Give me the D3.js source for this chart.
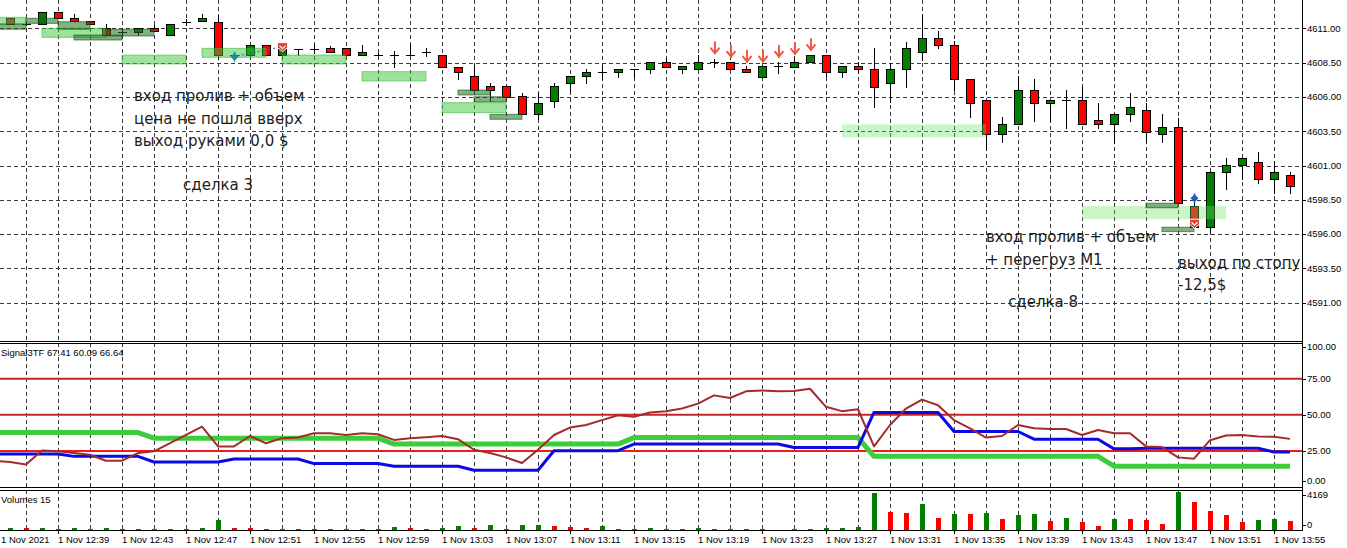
<!DOCTYPE html>
<html>
<head>
<meta charset="utf-8">
<script src="https://cdn.jsdelivr.net/npm/d3@7/dist/d3.min.js"></script>
<style>
body { margin: 0; background: #fff; }
svg { display: block; }
</style>
</head>
<body>
<script>
// one-minute bars, 1 Nov 2021, 12:35 .. 13:56
const times = ["12:35","12:36","12:37","12:38","12:39","12:40","12:41","12:42","12:43","12:44",
  "12:45","12:46","12:47","12:48","12:49","12:50","12:51","12:52","12:53","12:54",
  "12:55","12:56","12:57","12:58","12:59","13:00","13:01","13:02","13:03","13:04",
  "13:05","13:06","13:07","13:08","13:09","13:10","13:11","13:12","13:13","13:14",
  "13:15","13:16","13:17","13:18","13:19","13:20","13:21","13:22","13:23","13:24",
  "13:25","13:26","13:27","13:28","13:29","13:30","13:31","13:32","13:33","13:34",
  "13:35","13:36","13:37","13:38","13:39","13:40","13:41","13:42","13:43","13:44",
  "13:45","13:46","13:47","13:48","13:49","13:50","13:51","13:52","13:53","13:54",
  "13:55","13:56"];

const open = [4610.95,4611.75,4611.31,4611.29,4612.21,4611.73,4611.51,4611.00,4610.75,4610.75,
  4611.00,4610.51,4611.48,4611.53,4611.48,4609.05,4609.05,4609.78,4609.05,4609.47,
  4609.47,4609.54,4609.54,4609.05,4609.05,4609.05,4609.05,4609.25,4609.05,4608.20,
  4607.52,4606.79,4606.79,4606.07,4604.73,4605.72,4606.99,4607.52,4607.79,4607.79,
  4608.01,4608.01,4608.52,4608.01,4608.01,4608.52,4608.52,4608.01,4607.47,4608.25,
  4608.20,4608.52,4609.05,4607.79,4608.25,4608.01,4606.99,4608.01,4609.25,4610.27,
  4609.78,4607.28,4605.77,4603.27,4604.00,4606.50,4605.53,4605.77,4605.77,4604.32,
  4604.00,4604.73,4605.05,4603.27,4603.78,4598.05,4596.50,4600.50,4601.04,4601.23,
  4600.00,4600.31];

const high = [4611.35,4611.75,4611.40,4612.21,4612.21,4612.04,4611.51,4611.31,4611.00,4611.00,
  4611.24,4611.29,4611.66,4612.04,4611.97,4609.10,4609.78,4609.78,4609.47,4609.47,
  4609.78,4609.71,4609.54,4609.78,4609.18,4609.37,4609.78,4609.54,4609.05,4608.20,
  4608.33,4607.03,4606.79,4606.31,4606.26,4607.03,4607.52,4608.03,4608.33,4608.01,
  4608.01,4608.52,4608.86,4608.25,4609.05,4608.74,4608.52,4608.25,4608.25,4608.57,
  4608.81,4609.05,4609.05,4608.25,4608.57,4609.54,4608.45,4610.00,4612.04,4610.80,
  4610.10,4607.28,4605.77,4604.56,4607.55,4607.30,4605.77,4606.50,4606.74,4605.53,
  4604.73,4606.26,4605.53,4604.73,4604.44,4598.63,4600.50,4601.52,4601.52,4602.01,
  4601.28,4600.50];

const low = [4610.90,4611.31,4611.25,4611.29,4611.73,4611.53,4611.29,4610.51,4610.51,4610.51,
  4610.80,4610.51,4611.24,4611.53,4608.74,4608.98,4609.05,4609.05,4609.05,4609.05,
  4609.18,4609.25,4609.05,4609.05,4609.05,4608.20,4609.05,4608.98,4608.20,4607.30,
  4606.50,4605.72,4606.01,4604.73,4604.37,4605.24,4606.45,4606.99,4607.30,4607.47,
  4607.43,4607.76,4608.20,4607.76,4608.01,4608.20,4608.01,4607.79,4607.47,4607.76,
  4608.20,4608.52,4607.43,4607.47,4607.76,4605.24,4605.65,4606.74,4608.69,4609.54,
  4606.50,4604.51,4602.18,4602.73,4604.00,4604.27,4604.27,4603.76,4604.00,4603.76,
  4602.66,4604.27,4602.69,4602.73,4598.25,4596.50,4596.18,4599.27,4600.00,4599.75,
  4598.97,4598.97];

const close = [4611.29,4611.31,4611.31,4612.21,4611.73,4611.53,4611.29,4610.51,4610.75,4611.00,
  4610.80,4611.29,4611.48,4611.73,4609.05,4609.05,4609.78,4609.05,4609.47,4609.47,
  4609.47,4609.25,4609.05,4609.25,4609.05,4609.05,4609.05,4609.25,4608.20,4607.79,
  4606.50,4606.50,4606.01,4604.73,4605.58,4606.79,4607.52,4607.79,4607.79,4608.01,
  4608.01,4608.52,4608.20,4608.25,4608.52,4608.52,4608.01,4607.79,4608.25,4608.25,
  4608.52,4609.05,4607.79,4608.25,4608.01,4606.74,4608.03,4609.54,4610.27,4609.78,
  4607.28,4605.53,4603.27,4604.00,4606.50,4605.53,4605.77,4605.77,4604.00,4604.00,
  4604.73,4605.24,4603.46,4603.78,4598.25,4596.50,4600.50,4601.04,4601.52,4600.00,
  4600.50,4599.51];

const volume = [200,260,240,270,150,250,150,250,160,140,
  150,160,140,250,1050,240,230,140,150,140,
  150,140,150,140,130,370,250,140,250,440,
  250,550,140,550,560,440,360,250,440,140,
  150,250,140,130,250,140,150,140,150,30,
  150,140,250,260,370,4100,2000,1900,2890,1350,
  1800,1770,1880,1240,1680,1790,1020,1350,910,470,
  1240,1230,1130,690,4169,3100,2120,1680,910,1130,
  1240,1020];

// Signal3TF indicator buffers
const sigGreen = [37.7,37.7,37.7,37.7,37.7,37.7,37.7,37.7,37.7,37.7,
  33.8,33.8,33.8,33.8,33.8,33.8,33.8,33.8,33.8,33.8,
  33.8,33.8,33.8,33.8,33.8,29.7,29.7,29.7,29.7,29.7,
  29.7,29.7,29.7,29.7,29.7,29.7,29.7,29.7,29.7,29.7,
  34.2,34.2,34.2,34.2,34.2,34.2,34.2,34.2,34.2,34.2,
  34.2,34.2,34.2,34.2,34.2,21.2,21.2,21.2,21.2,21.2,
  21.2,21.2,21.2,21.2,21.2,21.2,21.2,21.2,21.2,21.2,
  14.4,14.4,14.4,14.4,14.4,14.4,14.4,14.4,14.4,14.4,
  14.4,14.4];

const sigBlue = [22.8,22.8,22.8,22.8,22.8,21.2,21.2,21.2,21.2,21.2,
  17.3,17.3,17.3,17.3,17.3,19.4,19.4,19.4,19.4,19.4,
  16.2,16.2,16.2,16.2,16.2,14.4,14.4,14.4,14.4,14.4,
  11.6,11.6,11.6,11.6,11.6,25.1,25.1,25.1,25.1,25.1,
  29.7,29.7,29.7,29.7,29.7,29.7,29.7,29.7,29.7,29.7,
  27.4,27.4,27.4,27.4,27.4,51.6,51.6,51.6,51.6,51.6,
  38.4,38.4,38.4,38.4,38.4,33.1,33.1,33.1,33.1,33.1,
  26.4,26.4,26.8,26.8,26.8,26.8,26.8,26.8,26.8,26.8,
  24.2,24.2];

const sigBrown = [18.0,17.3,15.5,25.3,24.7,23.5,22.3,18.2,18.2,23.5,
  24.7,30.3,36.0,41.8,28.1,28.1,35.3,30.3,33.8,34.2,
  37.2,37.2,36.0,37.2,36.5,32.6,33.8,34.5,35.3,33.1,
  25.8,23.5,20.5,16.6,25.8,36.0,41.1,42.9,46.3,49.7,
  48.6,51.6,52.5,54.3,57.7,63.4,61.6,66.2,66.8,66.2,
  66.4,68.0,55.5,52.5,53.8,28.1,42.9,54.3,60.5,56.6,
  46.3,40.6,34.2,35.3,42.9,40.6,40.1,40.1,36.0,39.5,
  37.2,37.2,28.1,27.6,20.5,19.6,32.4,35.6,36.0,34.9,
  34.7,33.3];

const sigLevels = [75, 50, 25];
const sigTicks = [100, 75, 50, 25, 0];
const priceTicks = [4611, 4608.5, 4606, 4603.5, 4601, 4598.5, 4596, 4593.5, 4591];
const timeTicks = ["12:35","12:39","12:43","12:47","12:51","12:55","12:59","13:03","13:07","13:11",
  "13:15","13:19","13:23","13:27","13:31","13:35","13:39","13:43","13:47","13:51","13:55"];
const timeTickLabels = ["1 Nov 2021","1 Nov 12:39","1 Nov 12:43","1 Nov 12:47","1 Nov 12:51",
  "1 Nov 12:55","1 Nov 12:59","1 Nov 13:03","1 Nov 13:07","1 Nov 13:11","1 Nov 13:15",
  "1 Nov 13:19","1 Nov 13:23","1 Nov 13:27","1 Nov 13:31","1 Nov 13:35","1 Nov 13:39",
  "1 Nov 13:43","1 Nov 13:47","1 Nov 13:51","1 Nov 13:55"];

// chart objects: rectangles [from, to, price1, price2, kind]
const boxes = [
  ["12:34","12:37",4611.80,4611.31,"light"],
  ["12:34","12:37",4611.31,4610.93,"dark"],
  ["12:37","12:39",4611.73,4611.36,"dark"],
  ["12:38","12:42",4611.00,4610.34,"light"],
  ["12:39","12:41",4611.48,4610.93,"dark"],
  ["12:40","12:43",4610.51,4610.15,"dark"],
  ["12:42","12:45",4610.93,4610.44,"dark"],
  ["12:43","12:47",4609.05,4608.40,"light"],
  ["12:48","12:52",4609.54,4608.89,"light"],
  ["12:53","12:57",4609.05,4608.40,"light"],
  ["12:58","13:02",4607.84,4607.16,"light"],
  ["13:03","13:07",4605.58,4604.85,"light"],
  ["13:04","13:06",4606.50,4606.14,"dark"],
  ["13:05","13:07",4606.01,4605.65,"dark"],
  ["13:06","13:08",4604.73,4604.37,"dark"],
  ["13:28","13:37",4604.00,4603.06,"pale"],
  ["13:43","13:52",4598.05,4597.08,"pale"],
  ["13:47","13:49",4598.25,4597.92,"dark"],
  ["13:48","13:50",4596.50,4596.18,"dark"]
];
const signalArrowTimes = ["13:20","13:21","13:22","13:23","13:24","13:25","13:26"];
const signalArrowPrices = [4609.18,4608.93,4608.57,4608.57,4608.93,4609.13,4609.42];
// trade marks [time, price, kind]
const trades = [
  ["12:50",4608.93,"open"], ["12:53",4609.66,"close"],
  ["13:50",4598.61,"open"], ["13:50",4596.79,"close"]
];
// text objects [time, price, text]
const notes = [
  ["12:43:45",4605.70,"вход пролив + объем"],
  ["12:43:45",4604.06,"цена не пошла вверх"],
  ["12:43:45",4602.42,"выход руками 0,0 $"],
  ["12:46:49",4599.25,"сделка 3"],
  ["13:37:00",4595.42,"вход пролив + объем"],
  ["13:37:00",4593.78,"+ перегруз М1"],
  ["13:38:23",4590.69,"сделка 8"],
  ["13:49:00",4593.53,"выход по стопу"],
  ["13:49:00",4591.93,"-12,5$"]
];
const indTitle = "Signal3TF 67.41 60.09 66.64";
const volTitle = "Volumes 15";

// layout
const W = 1347, H = 548, axisX = 1302;
const mainBot = 341, indTop = 343, indBot = 487, volTop = 490, volBot = 530;
const axisFont = "'Liberation Sans', Arial, sans-serif";

const parse = s => d3.timeParse("%H:%M:%S")(s.length === 5 ? s + ":00" : s);

const x = d3.scaleTime().domain([parse("12:35"), parse("13:56")]).range([-6, 1290]);
const y = d3.scaleLinear().domain([4591, 4611]).range([302.7, 28.3]);
const yInd = d3.scaleLinear().domain([0, 100]).range([487, 342.5]);
const yVol = d3.scaleLinear().domain([0, d3.max(volume)]).range([volBot, 492]);

const bars = times.map((t, i) => ({
  t: parse(t), o: open[i], h: high[i], l: low[i], c: close[i], v: volume[i],
  g: sigGreen[i], b: sigBlue[i], r: sigBrown[i],
  up: i === 0 ? true : volume[i] > volume[i - 1]
}));

const svg = d3.select("body").append("svg").attr("width", W).attr("height", H);
const defs = svg.append("defs");
function clip(id, y0, y1) {
  defs.append("clipPath").attr("id", id).append("rect")
    .attr("x", 0).attr("y", y0).attr("width", axisX).attr("height", y1 - y0);
  return svg.append("g").attr("clip-path", `url(#${id})`);
}
const px = v => Math.round(v) + 0.5;

// ---------- grid ----------
const gridTimes = times.filter(t => +t.slice(3) % 2 === 1).map(parse);
const grid = svg.append("g").attr("stroke", "#3a3a3a").attr("stroke-dasharray", "4,3")
  .attr("shape-rendering", "crispEdges");
[[0, mainBot], [indTop, indBot], [volTop, volBot]].forEach(([a, b]) => {
  grid.append("g").selectAll("line").data(gridTimes).enter().append("line")
    .attr("x1", d => px(x(d))).attr("x2", d => px(x(d)))
    .attr("y1", a).attr("y2", b);
});
grid.append("g").selectAll("line").data(priceTicks).enter().append("line")
  .attr("x1", 0).attr("x2", axisX).attr("y1", d => px(y(d))).attr("y2", d => px(y(d)));

// ---------- main panel ----------
const main = clip("cMain", 0, mainBot);

const candles = main.append("g").attr("shape-rendering", "crispEdges");
candles.selectAll("line.wick").data(bars).enter().append("line")
  .attr("class", "wick")
  .attr("x1", d => Math.round(x(d.t)) + 0.5).attr("x2", d => Math.round(x(d.t)) + 0.5)
  .attr("y1", d => Math.round(y(d.h))).attr("y2", d => Math.round(y(d.l)) + 1)
  .attr("stroke", "#000");
candles.selectAll("rect.body").data(bars.filter(d => d.o !== d.c)).enter().append("rect")
  .attr("class", "body")
  .attr("x", d => Math.round(x(d.t)) - 3.5)
  .attr("width", 8)
  .attr("y", d => Math.round(y(Math.max(d.o, d.c))) + 0.5)
  .attr("height", d => Math.max(1, Math.round(y(Math.min(d.o, d.c))) - Math.round(y(Math.max(d.o, d.c)))))
  .attr("fill", d => d.c > d.o ? "#008000" : "#ff0000")
  .attr("stroke", "#000");
candles.selectAll("line.doji").data(bars.filter(d => d.o === d.c)).enter().append("line")
  .attr("class", "doji")
  .attr("x1", d => Math.round(x(d.t)) - 4).attr("x2", d => Math.round(x(d.t)) + 5)
  .attr("y1", d => px(y(d.o))).attr("y2", d => px(y(d.o)))
  .attr("stroke", "#000");

// rectangles drawn over the bars
const boxStyle = {
  light: { fill: "rgba(60,200,60,0.5)", stroke: "rgba(50,180,50,0.55)" },
  dark: { fill: "rgba(30,110,30,0.55)", stroke: "rgba(20,80,20,0.6)" },
  pale: { fill: "rgba(100,225,100,0.35)", stroke: "none" }
};
main.append("g").selectAll("rect").data(boxes).enter().append("rect")
  .attr("x", d => x(parse(d[0])))
  .attr("width", d => x(parse(d[1])) - x(parse(d[0])))
  .attr("y", d => y(Math.max(d[2], d[3])))
  .attr("height", d => Math.abs(y(d[2]) - y(d[3])))
  .attr("fill", d => boxStyle[d[4]].fill)
  .attr("stroke", d => boxStyle[d[4]].stroke);

// sell-signal arrows
const arrows = main.append("g").attr("stroke", "#f05a48").attr("stroke-width", 2)
  .attr("fill", "none").attr("stroke-linecap", "round");
signalArrowTimes.forEach((t, i) => {
  const ax = Math.round(x(parse(t))) + 1, ay = y(signalArrowPrices[i]);
  arrows.append("line").attr("x1", ax).attr("x2", ax).attr("y1", ay - 11).attr("y2", ay);
  arrows.append("path").attr("d", `M${ax - 4},${ay - 5}L${ax},${ay}L${ax + 4},${ay - 5}`);
});

// trade marks
const o0 = trades[0], c0 = trades[1];
main.append("line")
  .attr("x1", x(parse(o0[0]))).attr("y1", y(o0[1]))
  .attr("x2", x(parse(c0[0]))).attr("y2", y(c0[1]))
  .attr("stroke", "#2060c0").attr("stroke-dasharray", "2,2");
const tm = main.append("g");
trades.forEach((d, i) => {
  const tx = Math.round(x(parse(d[0]))) + 0.5, ty = y(d[1]);
  if (d[2] === "open") {
    const col = i === 0 ? "#1f8c9c" : "#1c5fc0";
    tm.append("line").attr("x1", tx).attr("x2", tx).attr("y1", ty - 5).attr("y2", ty + 5)
      .attr("stroke", col).attr("stroke-width", 1.5);
    tm.append("path").attr("d", `M${tx},${ty - 4}L${tx + 4},${ty}L${tx},${ty + 4}L${tx - 4},${ty}Z`)
      .attr("fill", col);
  } else {
    tm.append("path").attr("d", `M${tx - 5},${ty - 4}L${tx + 5},${ty - 4}L${tx + 5},${ty + 1}L${tx},${ty + 5}L${tx - 5},${ty + 1}Z`)
      .attr("fill", "#e0402a").attr("stroke", "#fff").attr("stroke-width", 1);
    tm.append("path").attr("d", `M${tx - 3},${ty - 1}L${tx},${ty + 2}L${tx + 3},${ty - 1}`)
      .attr("fill", "none").attr("stroke", "#fff").attr("stroke-width", 1.2);
  }
});

// text objects
svg.append("g").selectAll("text").data(notes).enter().append("text")
  .attr("x", d => x(parse(d[0])))
  .attr("y", d => y(d[1]))
  .attr("font-family", "'DejaVu Sans', sans-serif")
  .attr("font-size", 15)
  .attr("fill", "#1c1c1c")
  .text(d => d[2]);

// ---------- indicator panel ----------
const ind = clip("cInd", indTop, indBot);
ind.append("g").selectAll("line").data(sigLevels).enter().append("line")
  .attr("x1", 0).attr("x2", axisX)
  .attr("y1", d => yInd(d)).attr("y2", d => yInd(d))
  .attr("stroke", d => d === 25 ? "#ee1c1c" : "#c42626").attr("stroke-width", 2);
const sigLine = key => d3.line().x(d => x(d.t)).y(d => yInd(d[key]));
ind.append("path").datum(bars).attr("d", sigLine("g"))
  .attr("fill", "none").attr("stroke", "#3ccc3c").attr("stroke-width", 5).attr("stroke-linejoin", "round");
ind.append("path").datum(bars).attr("d", sigLine("b"))
  .attr("fill", "none").attr("stroke", "#0a0ae6").attr("stroke-width", 3).attr("stroke-linejoin", "round");
ind.append("path").datum(bars).attr("d", sigLine("r"))
  .attr("fill", "none").attr("stroke", "#a52a2a").attr("stroke-width", 2).attr("stroke-linejoin", "round");

// ---------- volume panel ----------
const vol = clip("cVol", volTop, volBot + 1);
vol.selectAll("rect").data(bars).enter().append("rect")
  .attr("x", d => Math.round(x(d.t)) - 2)
  .attr("width", 5)
  .attr("y", d => Math.round(yVol(d.v)))
  .attr("height", d => volBot - Math.round(yVol(d.v)))
  .attr("fill", d => d.up ? "#008000" : "#ff0000")
  .attr("shape-rendering", "crispEdges");

// ---------- frames ----------
const frame = svg.append("g").attr("stroke", "#000").attr("shape-rendering", "crispEdges");
[mainBot, indTop, indBot, volTop, volBot].forEach(v => {
  frame.append("line").attr("x1", 0).attr("x2", axisX).attr("y1", v + 0.5).attr("y2", v + 0.5);
});
frame.append("line").attr("x1", axisX + 0.5).attr("x2", axisX + 0.5).attr("y1", 0).attr("y2", volBot + 1);

// ---------- scales ----------
const lab = svg.append("g").attr("font-family", axisFont).attr("font-size", 9.5).attr("fill", "#000");
function rightLabel(yy, txt) {
  frame.append("line").attr("x1", axisX).attr("x2", axisX + 4).attr("y1", px(yy)).attr("y2", px(yy));
  lab.append("text").attr("x", axisX + 5).attr("y", yy).attr("dy", "0.35em").text(txt);
}
priceTicks.forEach(p => rightLabel(y(p), p.toFixed(2)));
sigTicks.forEach(v => rightLabel(Math.min(Math.max(yInd(v), 347), 481), v.toFixed(2)));
rightLabel(494.5, String(d3.max(volume)));
rightLabel(524.5, "0");

timeTicks.forEach((t, i) => {
  const tx = Math.round(x(parse(t)));
  frame.append("line").attr("x1", tx + 0.5).attr("x2", tx + 0.5).attr("y1", volBot).attr("y2", volBot + 4);
  lab.append("text").attr("x", Math.max(tx, 1)).attr("y", 542.5).text(timeTickLabels[i]);
});

lab.append("text").attr("x", 1).attr("y", 356).text(indTitle);
lab.append("text").attr("x", 1).attr("y", 503).text(volTitle);
</script>
</body>
</html>
